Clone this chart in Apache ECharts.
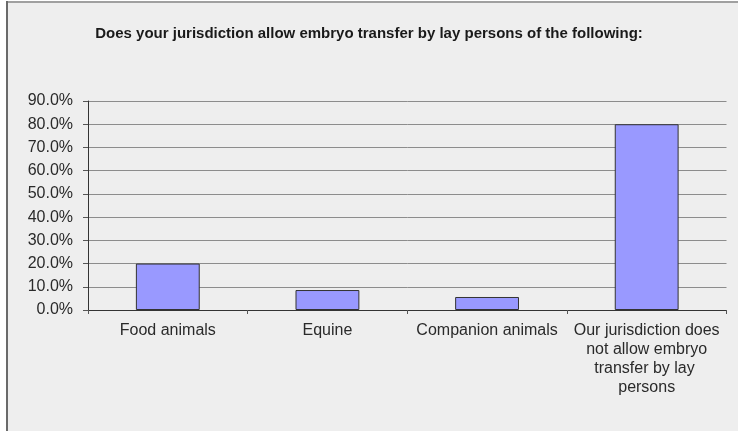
<!DOCTYPE html>
<html>
<head>
<meta charset="utf-8">
<script src="https://cdn.jsdelivr.net/npm/echarts@6/dist/echarts.min.js"></script>
<style>
html,body{margin:0;padding:0;background:#fff;}
#c{width:738px;height:431px;}
</style>
</head>
<body>
<div id="c"></div>
<script>
const titleText = 'Does your jurisdiction allow embryo transfer by lay persons of the following:';
const categories = ['Food animals', 'Equine', 'Companion animals', 'Our jurisdiction does not allow embryo transfer by lay persons'];
const values = [0.20, 0.086, 0.056, 0.80];
const yMin = 0, yMax = 0.9, yStep = 0.1;

const chart = echarts.init(document.getElementById('c'), null, {renderer: 'canvas'});
chart.setOption({
  animation: false,
  backgroundColor: '#ffffff',
  graphic: [
    {type: 'rect', z: -10, shape: {x: 7, y: 1, width: 740, height: 440}, style: {fill: '#eeeeee'}},
    {type: 'line', z: -9, shape: {x1: 7, y1: 2, x2: 738, y2: 2}, style: {stroke: '#a0a0a0', lineWidth: 2}},
    {type: 'line', z: -9, shape: {x1: 7, y1: 1, x2: 7, y2: 431}, style: {stroke: '#6a6a6a', lineWidth: 2}}
  ],
  title: {
    text: titleText,
    left: 'center',
    top: 21,
    textStyle: {fontFamily: 'Liberation Sans', fontWeight: 'bold', fontSize: 15, color: '#1a1a1a'}
  },
  grid: {left: 88, right: 11.5, top: 101, bottom: 121, containLabel: false},
  xAxis: {
    type: 'category',
    data: categories,
    boundaryGap: true,
    axisLine: {lineStyle: {color: '#333', width: 1}},
    axisTick: {show: true, length: 4, lineStyle: {color: '#555'}},
    axisLabel: {
      interval: 0,
      margin: 11,
      fontFamily: 'Liberation Sans',
      fontSize: 16,
      color: '#2a2a2a',
      lineHeight: 19,
      width: 150,
      overflow: 'break'
    }
  },
  yAxis: {
    type: 'value',
    min: yMin,
    max: yMax,
    interval: yStep,
    axisLine: {show: true, lineStyle: {color: '#333', width: 1}},
    axisTick: {show: true, length: 5, lineStyle: {color: '#555'}},
    splitLine: {show: true, lineStyle: {color: '#8c8c8c', width: 1}},
    axisLabel: {
      margin: 15,
      fontFamily: 'Liberation Sans',
      fontSize: 16,
      color: '#2a2a2a',
      formatter: v => (v * 100).toFixed(1) + '%'
    }
  },
  series: [{
    type: 'bar',
    data: values,
    barWidth: '40%',
    itemStyle: {color: '#9999ff', borderColor: '#333', borderWidth: 1}
  }]
});
</script>
</body>
</html>
